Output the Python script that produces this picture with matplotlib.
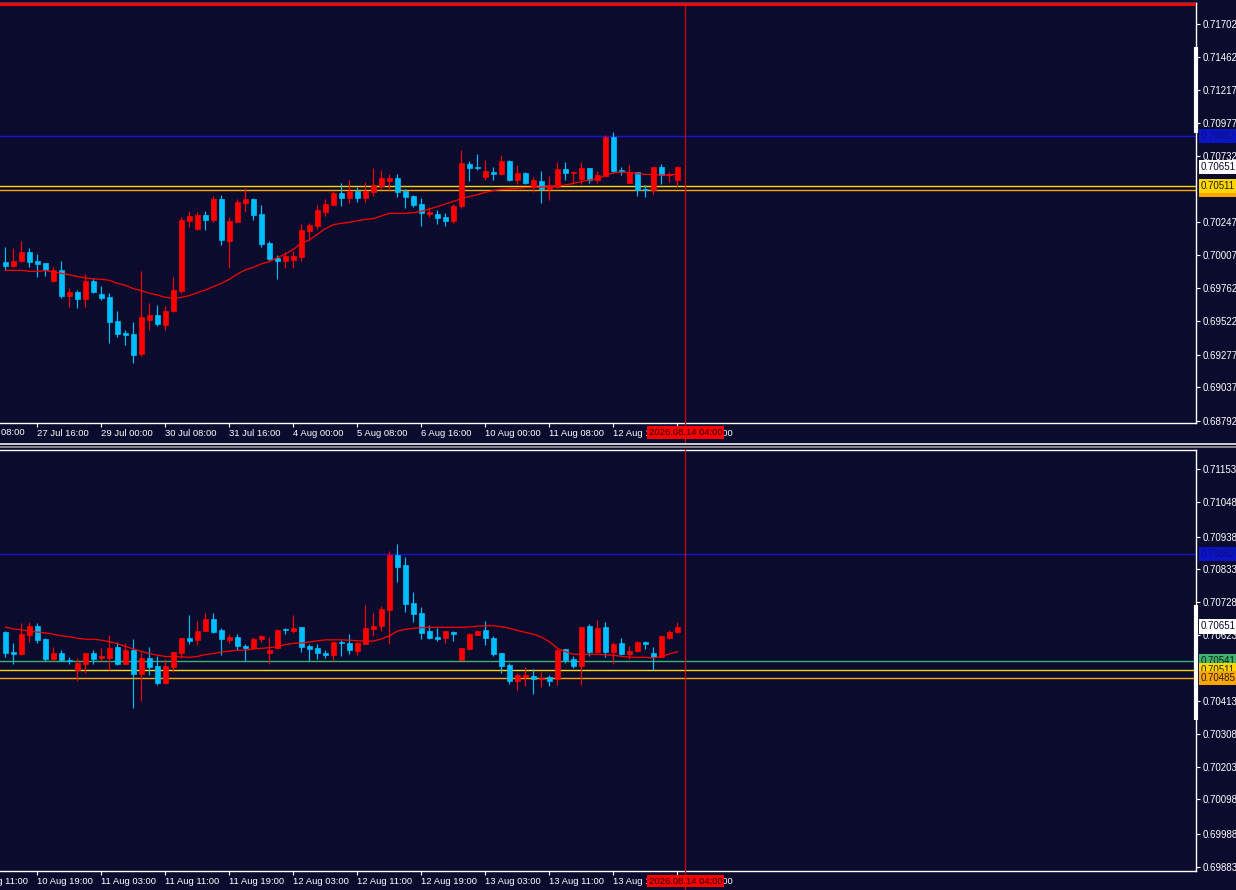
import numpy as np
import matplotlib.pyplot as plt
from matplotlib.lines import Line2D

plt.rcParams["font.family"] = ["Liberation Sans", "DejaVu Sans"]

# ── colours ──────────────────────────────────────────────────────────────────
BG = "#0b0b2e"
UP = "#ff0000"
DN = "#00bfff"
TXT = "white"

# ── H4 panel (top) ───────────────────────────────────────────────────────────
h4_open = [
    0.69956, 0.69927, 0.69964, 0.70030, 0.69964, 0.69949, 0.69817, 0.69898, 0.69707, 0.69736,
    0.69685, 0.69817, 0.69722, 0.69700, 0.69524, 0.69436, 0.69428, 0.69282, 0.69531, 0.69568,
    0.69494, 0.69597, 0.69744, 0.70257, 0.70198, 0.70301, 0.70264, 0.70418, 0.70110, 0.70250,
    0.70389, 0.70418, 0.70308, 0.70096, 0.69986, 0.69964, 0.69971, 0.69993, 0.70184, 0.70220,
    0.70323, 0.70374, 0.70462, 0.70426, 0.70477, 0.70426, 0.70470, 0.70514, 0.70550, 0.70572,
    0.70477, 0.70440, 0.70382, 0.70308, 0.70308, 0.70286, 0.70257, 0.70367, 0.70675, 0.70653,
    0.70580, 0.70616, 0.70602, 0.70697, 0.70558, 0.70609, 0.70506, 0.70550, 0.70492, 0.70506,
    0.70638, 0.70609, 0.70565, 0.70646, 0.70558, 0.70587, 0.70873, 0.70631, 0.70536, 0.70616,
    0.70492, 0.70484, 0.70653, 0.70594, 0.70558]
h4_high = [
    0.70066, 0.70059, 0.70110, 0.70059, 0.70015, 0.69949, 0.69920, 0.69964, 0.69766, 0.69751,
    0.69868, 0.69839, 0.69780, 0.69729, 0.69597, 0.69458, 0.69516, 0.69890, 0.69656, 0.69641,
    0.69634, 0.69846, 0.70286, 0.70330, 0.70323, 0.70330, 0.70440, 0.70448, 0.70286, 0.70418,
    0.70499, 0.70426, 0.70374, 0.70110, 0.70008, 0.70030, 0.70037, 0.70235, 0.70242, 0.70374,
    0.70418, 0.70477, 0.70536, 0.70558, 0.70506, 0.70543, 0.70646, 0.70631, 0.70602, 0.70602,
    0.70492, 0.70448, 0.70426, 0.70360, 0.70338, 0.70316, 0.70382, 0.70778, 0.70697, 0.70749,
    0.70705, 0.70653, 0.70741, 0.70705, 0.70668, 0.70616, 0.70580, 0.70624, 0.70587, 0.70690,
    0.70690, 0.70624, 0.70690, 0.70646, 0.70624, 0.70888, 0.70910, 0.70653, 0.70668, 0.70616,
    0.70521, 0.70653, 0.70675, 0.70616, 0.70660]
h4_low = [
    0.69898, 0.69920, 0.69956, 0.69920, 0.69846, 0.69854, 0.69810, 0.69692, 0.69626, 0.69619,
    0.69626, 0.69729, 0.69678, 0.69362, 0.69406, 0.69347, 0.69216, 0.69267, 0.69458, 0.69487,
    0.69458, 0.69590, 0.69729, 0.70213, 0.70191, 0.70191, 0.70250, 0.70081, 0.69912, 0.70250,
    0.70323, 0.70264, 0.70066, 0.69971, 0.69832, 0.69912, 0.69912, 0.69964, 0.70118, 0.70198,
    0.70294, 0.70374, 0.70367, 0.70389, 0.70396, 0.70396, 0.70440, 0.70492, 0.70484, 0.70433,
    0.70352, 0.70360, 0.70220, 0.70286, 0.70235, 0.70220, 0.70242, 0.70352, 0.70550, 0.70631,
    0.70558, 0.70558, 0.70594, 0.70550, 0.70528, 0.70528, 0.70470, 0.70389, 0.70411, 0.70499,
    0.70558, 0.70528, 0.70528, 0.70536, 0.70536, 0.70587, 0.70609, 0.70594, 0.70536, 0.70440,
    0.70433, 0.70455, 0.70528, 0.70543, 0.70506]
h4_close = [
    0.69927, 0.69964, 0.70030, 0.69956, 0.69942, 0.69898, 0.69898, 0.69707, 0.69736, 0.69685,
    0.69817, 0.69736, 0.69692, 0.69516, 0.69428, 0.69421, 0.69274, 0.69553, 0.69568, 0.69502,
    0.69597, 0.69751, 0.70264, 0.70294, 0.70301, 0.70264, 0.70418, 0.70118, 0.70257, 0.70396,
    0.70418, 0.70301, 0.70088, 0.69978, 0.69964, 0.70000, 0.70000, 0.70191, 0.70228, 0.70338,
    0.70382, 0.70462, 0.70426, 0.70477, 0.70426, 0.70477, 0.70521, 0.70572, 0.70572, 0.70470,
    0.70433, 0.70374, 0.70316, 0.70323, 0.70279, 0.70257, 0.70367, 0.70682, 0.70646, 0.70646,
    0.70624, 0.70602, 0.70697, 0.70558, 0.70609, 0.70536, 0.70558, 0.70492, 0.70521, 0.70638,
    0.70609, 0.70616, 0.70646, 0.70558, 0.70594, 0.70873, 0.70624, 0.70624, 0.70616, 0.70484,
    0.70484, 0.70653, 0.70594, 0.70602, 0.70653]
h4_ma = [
    0.69895, 0.69895, 0.69895, 0.69888, 0.69888, 0.69893, 0.69885, 0.69873, 0.69863, 0.69849,
    0.69839, 0.69832, 0.69829, 0.69822, 0.69800, 0.69785, 0.69761, 0.69746, 0.69727, 0.69714,
    0.69697, 0.69690, 0.69697, 0.69709, 0.69731, 0.69751, 0.69775, 0.69800, 0.69829, 0.69868,
    0.69898, 0.69917, 0.69942, 0.69959, 0.69988, 0.70015, 0.70049, 0.70093, 0.70118, 0.70159,
    0.70201, 0.70230, 0.70240, 0.70247, 0.70259, 0.70269, 0.70274, 0.70294, 0.70313, 0.70313,
    0.70313, 0.70318, 0.70328, 0.70345, 0.70362, 0.70382, 0.70401, 0.70421, 0.70436, 0.70450,
    0.70467, 0.70480, 0.70489, 0.70492, 0.70497, 0.70502, 0.70504, 0.70506, 0.70509, 0.70514,
    0.70521, 0.70533, 0.70546, 0.70558, 0.70568, 0.70590, 0.70612, 0.70614, 0.70614, 0.70604,
    0.70599, 0.70597, 0.70594, 0.70594, 0.70602]
h4_yticks = [0.71702, 0.71462, 0.71217, 0.70977, 0.70732, 0.70247, 0.70007,
             0.69762, 0.69522, 0.69277, 0.69037, 0.68792]
h4_xtick_bars = [-4, 4, 12, 20, 28, 36, 44, 52, 60, 68, 76, 84]
h4_xtick_labels = ["25 Jul 08:00", "27 Jul 16:00", "29 Jul 00:00", "30 Jul 08:00",
                   "31 Jul 16:00", "4 Aug 00:00", "5 Aug 08:00", "6 Aug 16:00",
                   "10 Aug 00:00", "11 Aug 08:00", "12 Aug 16:00", "14 Aug 00:00"]
h4_levels = [(0.70882, "#1414d2"), (0.70511, "#ffd700"), (0.70485, "#ffa500")]
h4_tags = [(0.70882, "#0a14c8", "#101070"), (0.70651, "white", "#0b0b2e"),
           (0.70485, "#ffa500", "#202020"), (0.70511, "#ffd700", "#202020")]
h4_ylim = (0.68775, 0.71856)
h4_top_line = 0.71849
h4_scroll = (0.70902, 0.71533)

# ── H1 panel (bottom) ────────────────────────────────────────────────────────
h1_open = [
    0.70633, 0.70569, 0.70563, 0.70624, 0.70652, 0.70611, 0.70547, 0.70566, 0.70544, 0.70512,
    0.70531, 0.70566, 0.70550, 0.70550, 0.70585, 0.70531, 0.70576, 0.70499, 0.70550, 0.70524,
    0.70470, 0.70521, 0.70566, 0.70614, 0.70608, 0.70636, 0.70675, 0.70640, 0.70608, 0.70617,
    0.70588, 0.70582, 0.70611, 0.70566, 0.70582, 0.70643, 0.70636, 0.70649, 0.70588, 0.70582,
    0.70566, 0.70560, 0.70601, 0.70598, 0.70572, 0.70595, 0.70643, 0.70652, 0.70703, 0.70879,
    0.70847, 0.70726, 0.70694, 0.70636, 0.70617, 0.70614, 0.70633, 0.70544, 0.70579, 0.70624,
    0.70640, 0.70614, 0.70566, 0.70528, 0.70477, 0.70489, 0.70493, 0.70483, 0.70489, 0.70483,
    0.70579, 0.70547, 0.70524, 0.70652, 0.70569, 0.70649, 0.70569, 0.70598, 0.70563, 0.70572,
    0.70601, 0.70566, 0.70553, 0.70614, 0.70633]
h1_high = [
    0.70636, 0.70598, 0.70662, 0.70665, 0.70662, 0.70614, 0.70585, 0.70576, 0.70553, 0.70550,
    0.70566, 0.70576, 0.70582, 0.70624, 0.70601, 0.70598, 0.70611, 0.70569, 0.70585, 0.70556,
    0.70547, 0.70569, 0.70614, 0.70687, 0.70668, 0.70694, 0.70694, 0.70646, 0.70627, 0.70627,
    0.70595, 0.70617, 0.70624, 0.70617, 0.70643, 0.70646, 0.70687, 0.70649, 0.70595, 0.70595,
    0.70576, 0.70601, 0.70608, 0.70627, 0.70601, 0.70719, 0.70694, 0.70716, 0.70892, 0.70914,
    0.70873, 0.70761, 0.70713, 0.70655, 0.70646, 0.70636, 0.70636, 0.70582, 0.70630, 0.70640,
    0.70668, 0.70620, 0.70566, 0.70534, 0.70502, 0.70521, 0.70515, 0.70505, 0.70496, 0.70579,
    0.70579, 0.70556, 0.70649, 0.70659, 0.70671, 0.70665, 0.70601, 0.70614, 0.70588, 0.70604,
    0.70604, 0.70585, 0.70624, 0.70640, 0.70665]
h1_low = [
    0.70553, 0.70531, 0.70560, 0.70601, 0.70598, 0.70540, 0.70540, 0.70540, 0.70531, 0.70477,
    0.70502, 0.70531, 0.70540, 0.70512, 0.70528, 0.70531, 0.70390, 0.70413, 0.70496, 0.70464,
    0.70467, 0.70505, 0.70550, 0.70595, 0.70592, 0.70636, 0.70630, 0.70560, 0.70598, 0.70576,
    0.70540, 0.70579, 0.70601, 0.70531, 0.70579, 0.70627, 0.70630, 0.70569, 0.70540, 0.70547,
    0.70550, 0.70540, 0.70556, 0.70563, 0.70560, 0.70595, 0.70620, 0.70636, 0.70595, 0.70793,
    0.70697, 0.70665, 0.70611, 0.70611, 0.70604, 0.70598, 0.70604, 0.70544, 0.70576, 0.70624,
    0.70592, 0.70556, 0.70502, 0.70467, 0.70448, 0.70461, 0.70435, 0.70457, 0.70461, 0.70464,
    0.70534, 0.70518, 0.70464, 0.70556, 0.70569, 0.70553, 0.70531, 0.70560, 0.70547, 0.70569,
    0.70579, 0.70512, 0.70553, 0.70611, 0.70630]
h1_close = [
    0.70566, 0.70563, 0.70627, 0.70652, 0.70608, 0.70547, 0.70566, 0.70544, 0.70540, 0.70534,
    0.70566, 0.70547, 0.70556, 0.70582, 0.70531, 0.70576, 0.70499, 0.70550, 0.70521, 0.70470,
    0.70524, 0.70569, 0.70614, 0.70604, 0.70636, 0.70675, 0.70633, 0.70611, 0.70617, 0.70588,
    0.70582, 0.70611, 0.70620, 0.70576, 0.70640, 0.70640, 0.70646, 0.70585, 0.70579, 0.70566,
    0.70560, 0.70601, 0.70598, 0.70576, 0.70598, 0.70646, 0.70652, 0.70707, 0.70879, 0.70841,
    0.70723, 0.70691, 0.70630, 0.70614, 0.70611, 0.70636, 0.70627, 0.70582, 0.70627, 0.70636,
    0.70614, 0.70563, 0.70524, 0.70477, 0.70496, 0.70496, 0.70483, 0.70486, 0.70477, 0.70576,
    0.70544, 0.70524, 0.70649, 0.70569, 0.70646, 0.70569, 0.70595, 0.70563, 0.70572, 0.70601,
    0.70595, 0.70553, 0.70620, 0.70633, 0.70649]
h1_ma = [
    0.70649, 0.70643, 0.70640, 0.70636, 0.70633, 0.70630, 0.70626, 0.70621, 0.70618, 0.70613,
    0.70610, 0.70610, 0.70607, 0.70602, 0.70596, 0.70587, 0.70579, 0.70571, 0.70564, 0.70559,
    0.70555, 0.70554, 0.70554, 0.70552, 0.70555, 0.70561, 0.70564, 0.70569, 0.70572, 0.70575,
    0.70575, 0.70579, 0.70581, 0.70583, 0.70586, 0.70593, 0.70597, 0.70598, 0.70601, 0.70605,
    0.70608, 0.70608, 0.70608, 0.70607, 0.70605, 0.70604, 0.70604, 0.70611, 0.70621, 0.70636,
    0.70642, 0.70645, 0.70647, 0.70648, 0.70648, 0.70648, 0.70648, 0.70648, 0.70649, 0.70652,
    0.70653, 0.70653, 0.70650, 0.70645, 0.70638, 0.70632, 0.70626, 0.70617, 0.70602, 0.70581,
    0.70570, 0.70562, 0.70562, 0.70562, 0.70562, 0.70560, 0.70559, 0.70555, 0.70553, 0.70552,
    0.70552, 0.70550, 0.70555, 0.70563, 0.70570]
h1_yticks = [0.71153, 0.71048, 0.70938, 0.70833, 0.70728, 0.70623, 0.70413,
             0.70308, 0.70203, 0.70098, 0.69988, 0.69883]
h1_xtick_bars = [-4, 4, 12, 20, 28, 36, 44, 52, 60, 68, 76, 84]
h1_xtick_labels = ["10 Aug 11:00", "10 Aug 19:00", "11 Aug 03:00", "11 Aug 11:00",
                   "11 Aug 19:00", "12 Aug 03:00", "12 Aug 11:00", "12 Aug 19:00",
                   "13 Aug 03:00", "13 Aug 11:00", "13 Aug 19:00", "14 Aug 03:00"]
h1_levels = [(0.70882, "#1414d2"), (0.70541, "#3cb371"),
             (0.70511, "#ffd700"), (0.70485, "#ffa500")]
h1_tags = [(0.70882, "#0a14c8", "#101070"), (0.70651, "white", "#0b0b2e"),
           (0.70541, "#3cb371", "#102010"), (0.70511, "#ffd700", "#202020"),
           (0.70485, "#ffa500", "#202020")]
h1_ylim = (0.69869, 0.71215)
h1_scroll = (0.70352, 0.70719)

CURSOR_BAR = 85
CURSOR_LABEL = "2026.08.14 04:00"
XLIM = (-0.66, 148.8)


def draw_candles(ax, o, h, l, c, ma):
    o, h, l, c = map(np.asarray, (o, h, l, c))
    x = np.arange(len(o))
    cols = np.where(c >= o, UP, DN)
    ax.vlines(x, l, h, colors=cols, lw=0.85, zorder=3)
    ax.bar(x, np.abs(c - o), bottom=np.minimum(o, c), width=0.62,
           color=cols, edgecolor=cols, lw=0.5, zorder=4)
    ax.plot(x, ma, color=UP, lw=0.9, zorder=5)


def style_panel(ax, ylim, yticks, xbars, xlabels, levels, tags, scroll, lab_off):
    ax.set_facecolor(BG)
    for sp in ax.spines.values():
        sp.set_color("white")
        sp.set_linewidth(1.0)
    ax.spines["left"].set_visible(False)
    ax.yaxis.tick_right()
    ax.set_yticks(yticks)
    ax.set_yticklabels([f"{v:.5f}" for v in yticks])
    ax.tick_params(axis="y", colors=TXT, labelsize=7, length=3, width=0.8, pad=2)
    # the first label sits left of the window and is cut by the figure edge
    ax.set_xticks(xbars[1:])
    ax.set_xticklabels(xlabels[1:])
    ax.tick_params(axis="x", colors=TXT, labelsize=6.8, length=3, width=0.8, pad=1.5)
    for lbl in ax.get_xticklabels():
        lbl.set_ha("left")
    ax.text(xbars[0], lab_off, xlabels[0], transform=ax.get_xaxis_transform(),
            ha="left", va="center", fontsize=6.8, color=TXT, clip_on=False)
    ax.set_xlim(*XLIM)
    ax.set_ylim(*ylim)
    for price, col in levels:
        ax.axhline(price, color=col, lw=1.0, zorder=2)
    for price, fc, tc in tags:
        ax.text(1.0042, price, f"{price:.5f}", transform=ax.get_yaxis_transform(),
                ha="left", va="center", fontsize=7, color=tc, clip_on=False,
                zorder=20, bbox=dict(boxstyle="square,pad=0.22", fc=fc, ec="none"))
    ax.plot([1.0, 1.0], scroll, transform=ax.get_yaxis_transform(), color="white",
            lw=3, clip_on=False, solid_capstyle="butt", zorder=15)
    ax.axvline(CURSOR_BAR, ymin=-0.05, ymax=1.0, color="#d00000", lw=0.9,
               clip_on=False, zorder=6)
    ax.text(CURSOR_BAR, lab_off, CURSOR_LABEL, transform=ax.get_xaxis_transform(),
            ha="center", va="center", fontsize=6.8, color="#1a0000", clip_on=False,
            zorder=20, bbox=dict(boxstyle="square,pad=0.2", fc="#ff0000", ec="none"))


fig = plt.figure(figsize=(12.36, 8.90), dpi=100, facecolor=BG)
ax1 = fig.add_axes([0, 1 - 423 / 890, 1196 / 1236, 420 / 890])
ax2 = fig.add_axes([0, 1 - 871 / 890, 1196 / 1236, 421 / 890])

draw_candles(ax1, h4_open, h4_high, h4_low, h4_close, h4_ma)
style_panel(ax1, h4_ylim, h4_yticks, h4_xtick_bars, h4_xtick_labels,
            h4_levels, h4_tags, h4_scroll, -0.022)
ax1.axhline(h4_top_line, color="#ff0000", lw=2.2, zorder=7)

draw_candles(ax2, h1_open, h1_high, h1_low, h1_close, h1_ma)
style_panel(ax2, h1_ylim, h1_yticks, h1_xtick_bars, h1_xtick_labels,
            h1_levels, h1_tags, h1_scroll, -0.024)

# window separator
fig.add_artist(Line2D([0, 1], [1 - 444 / 890] * 2, color="#f0f0f0", lw=1.2))
fig.add_artist(Line2D([0, 1], [1 - 446.5 / 890] * 2, color="#9a9a9a", lw=1.2))

fig.savefig("out.png", dpi=100, facecolor=BG)
